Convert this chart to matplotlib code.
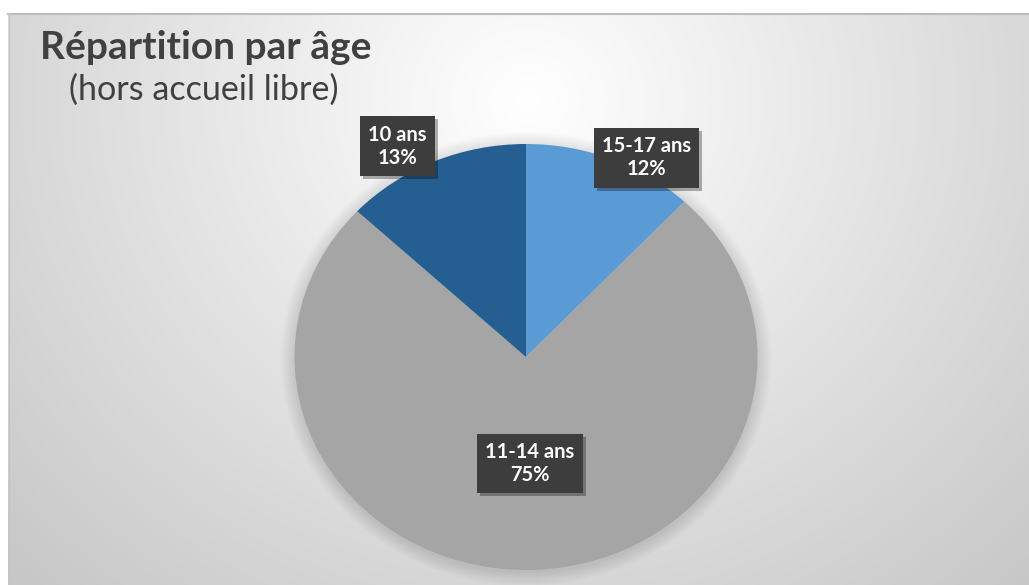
import numpy as np
import matplotlib
matplotlib.use('Agg')
import matplotlib.pyplot as plt
from matplotlib.patches import Ellipse, Rectangle
from matplotlib.transforms import IdentityTransform

# data
categories = ['15-17 ans', '11-14 ans', '10 ans']
shares = [12, 75, 13]
colors = ['#5B9BD5', '#A5A5A5', '#255E91']

# where Excel put the data labels (pie axes units)
label_pos = [(0.52, 0.935), (0.017, -0.50), (-0.556, 0.99)]

W, H = 1029, 585
fig = plt.figure(figsize=(W / 100, H / 100), dpi=100)

# background with radial gradient
bg = fig.add_axes([0, 0, 1, 1])
yy, xx = np.mgrid[0:H, 0:W]
r = np.sqrt(((xx - 528) / 520) ** 2 + ((yy - 100) / 480) ** 2)
val = np.clip(255 - 40 * r, 190, 255) / 255
img = np.dstack([val, val, val])
img[:13, :] = 1
img[:, :8] = 1
bg.imshow(img, extent=(0, W, H, 0), interpolation='bilinear', aspect='auto')
bg.set_xlim(0, W)
bg.set_ylim(H, 0)
bg.axis('off')
bg.plot([8, W], [13.5, 13.5], color='#bdbdbd', lw=1.5)
bg.plot([8.5, 8.5], [13, H], color='#c4c4c4', lw=0.8)

bg.text(40, 59, 'Répartition par âge', family='Lato', fontweight='bold',
        fontsize=28, color='#404040', va='baseline', ha='left')
bg.text(69, 100, '(hors accueil libre)', family='Lato', fontsize=24.6,
        color='#404040', va='baseline', ha='left')

# pie
cx, cy, rx, ry = 526, 357, 231.5, 213
ax = fig.add_axes([(cx - rx) / W, (H - cy - ry) / H, 2 * rx / W, 2 * ry / H])
ax.patch.set_visible(False)

# soft shadow round the pie
for k in range(14, 0, -1):
    ax.add_patch(Ellipse((0, -0.01), 2 + 2 * k / rx, 2 + 2 * k / ry,
                         fc='black', ec='none', alpha=0.006, zorder=0,
                         clip_on=False))

wedges, _ = ax.pie(shares, colors=colors, startangle=90, counterclock=False,
                   radius=1, wedgeprops=dict(linewidth=0))
for w in wedges:
    w.set_zorder(2)
ax.set_aspect('auto')
ax.set_xlim(-1, 1)
ax.set_ylim(-1, 1)

labels = []
for cat, share, (lx, ly) in zip(categories, shares, label_pos):
    t = ax.text(lx, ly, f'{cat}\n{share}%', ha='center', va='center',
                family='Lato', fontweight='bold', fontsize=14.5, color='white',
                linespacing=1.2, zorder=5,
                bbox=dict(boxstyle='square,pad=0.4', fc='#3d3d3d', ec='none'))
    labels.append(t)

# drop shadow under each label box
fig.canvas.draw()
for t in labels:
    bb = t.get_bbox_patch().get_window_extent()
    ax.add_patch(Rectangle((bb.x0 + 3, bb.y0 - 3), bb.width, bb.height,
                           transform=IdentityTransform(), fc='black', ec='none',
                           alpha=0.3, zorder=3, clip_on=False))

fig.savefig('out.png', dpi=100)
